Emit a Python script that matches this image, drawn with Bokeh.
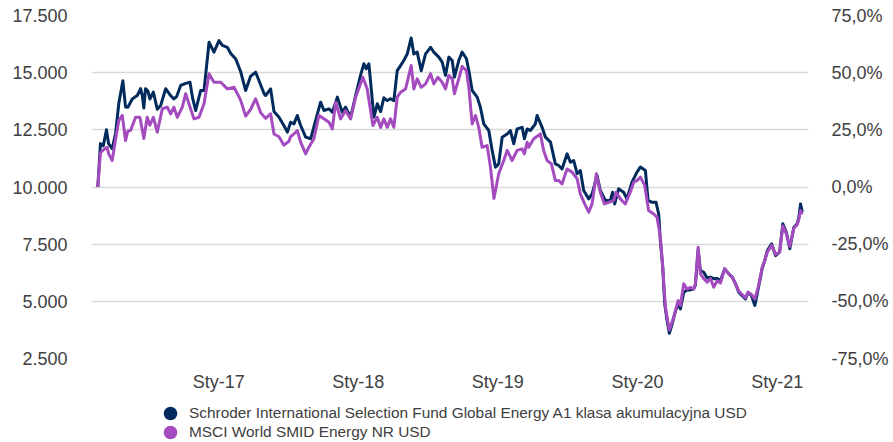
import math
from datetime import datetime, timedelta
from bokeh.plotting import figure
from bokeh.layouts import column
from bokeh.models import (ColumnDataSource, Range1d, LinearAxis, FixedTicker,
                          Legend, LegendItem)
from bokeh.embed import file_html
from bokeh.resources import INLINE

# ---------------- data (time as decimal year, value of 10 000 invested) -------------
fund_t = [2016.136, 2016.155, 2016.175, 2016.198, 2016.213, 2016.239, 2016.263, 2016.286,
          2016.315, 2016.334, 2016.351, 2016.382, 2016.418, 2016.442, 2016.454, 2016.465,
          2016.477, 2016.494, 2016.508, 2016.533, 2016.561, 2016.585, 2016.621, 2016.656,
          2016.680, 2016.699, 2016.728, 2016.764, 2016.795, 2016.812, 2016.835, 2016.871,
          2016.895, 2016.931, 2016.966, 2017.002, 2017.026, 2017.062, 2017.086, 2017.122,
          2017.157, 2017.193, 2017.229, 2017.265, 2017.288, 2017.324, 2017.336, 2017.372,
          2017.396, 2017.432, 2017.467, 2017.492, 2017.515, 2017.539, 2017.563, 2017.587,
          2017.623, 2017.659, 2017.694, 2017.730, 2017.754, 2017.790, 2017.814, 2017.850,
          2017.885, 2017.909, 2017.945, 2017.981, 2018.016, 2018.040, 2018.057, 2018.076,
          2018.112, 2018.136, 2018.160, 2018.183, 2018.208, 2018.231, 2018.255, 2018.279,
          2018.303, 2018.326, 2018.351, 2018.379, 2018.398, 2018.422, 2018.451, 2018.482,
          2018.518, 2018.541, 2018.577, 2018.601, 2018.625, 2018.649, 2018.673, 2018.689,
          2018.720, 2018.744, 2018.775, 2018.792, 2018.816, 2018.852, 2018.875, 2018.899,
          2018.935, 2018.959, 2018.983, 2019.006, 2019.031, 2019.067, 2019.090, 2019.114,
          2019.138, 2019.174, 2019.190, 2019.210, 2019.233, 2019.269, 2019.281, 2019.317,
          2019.341, 2019.377, 2019.412, 2019.436, 2019.460, 2019.496, 2019.520, 2019.543,
          2019.568, 2019.591, 2019.615, 2019.651, 2019.675, 2019.711, 2019.734, 2019.770,
          2019.806, 2019.822, 2019.837, 2019.865, 2019.901, 2019.925, 2019.961, 2019.997,
          2020.021, 2020.057, 2020.076, 2020.105, 2020.133, 2020.152, 2020.164, 2020.181,
          2020.195, 2020.212, 2020.228, 2020.248, 2020.271, 2020.291, 2020.307, 2020.331,
          2020.355, 2020.379, 2020.402, 2020.414, 2020.434, 2020.450, 2020.474, 2020.498,
          2020.522, 2020.545, 2020.570, 2020.593, 2020.624, 2020.653, 2020.677, 2020.701,
          2020.724, 2020.748, 2020.772, 2020.791, 2020.815, 2020.839, 2020.863, 2020.892,
          2020.910, 2020.928, 2020.959, 2020.987, 2021.016, 2021.039, 2021.064, 2021.089,
          2021.118, 2021.142, 2021.154, 2021.166, 2021.178]
fund_v = [10000, 11900, 11800, 12500, 11900, 11680, 12340, 13650,
          14650, 13500, 13490, 13850, 14000, 14300, 14000, 13450,
          14300, 14200, 13850, 14150, 13400, 13560, 14300, 14000,
          13850, 13950, 14440, 14530, 14580, 13930, 13345, 14220,
          14220, 16330, 15900, 16400, 16190, 16110, 15840, 15600,
          15050, 14220, 14850, 15020, 14660, 14100, 14000, 14290,
          13300, 13050, 12690, 12400, 12830, 12760, 13130, 12690,
          12180, 12110, 12900, 13710, 13345, 13420, 13270, 13930,
          13270, 13490, 13050, 14000, 14880, 15390, 15170, 15390,
          13050, 13640, 13300, 13900, 13780, 13860, 13780, 15090,
          15310, 15530, 15820, 16520, 15820, 15900, 15090, 15820,
          16110, 15900, 15680, 15460, 14880, 15680, 15530, 14800,
          15530, 15900, 15610, 15090, 14220, 13930, 13490, 12760,
          12470, 11600, 10870, 11010, 12180, 12320, 12470, 11890,
          12540, 12610, 12110, 12540, 12470, 12760, 13130, 12610,
          12180, 11960, 11010, 10940, 10790, 11450, 11080, 11160,
          10580, 10720, 9850, 9480, 9700, 10500, 9850, 9410,
          9410, 9770, 9260, 9920, 9770, 9480, 10210, 10650,
          10870, 10720, 9410, 9330, 9330, 8820, 7630, 6490,
          4890, 4160, 3600, 4010, 4550, 4900, 4670, 5400,
          5500, 5500, 5550, 5700, 7250, 6350, 6270, 6020,
          6060, 5990, 6000, 5900, 6420, 6200, 6060, 5770,
          5400, 5250, 5100, 5400, 5250, 4820, 5550, 6450,
          6780, 7220, 7510, 7000, 7150, 8390, 8020, 7300,
          8240, 8390, 8680, 9260, 8900]

bench_t = [2016.136, 2016.155, 2016.175, 2016.203, 2016.213, 2016.239, 2016.263, 2016.286,
           2016.311, 2016.334, 2016.351, 2016.370, 2016.406, 2016.437, 2016.465, 2016.489,
           2016.508, 2016.533, 2016.561, 2016.597, 2016.633, 2016.656, 2016.680, 2016.704,
           2016.740, 2016.764, 2016.787, 2016.823, 2016.859, 2016.895, 2016.931, 2016.966,
           2017.014, 2017.062, 2017.110, 2017.157, 2017.193, 2017.229, 2017.265, 2017.301,
           2017.336, 2017.372, 2017.396, 2017.432, 2017.467, 2017.503, 2017.515, 2017.539,
           2017.563, 2017.587, 2017.623, 2017.646, 2017.682, 2017.718, 2017.754, 2017.790,
           2017.814, 2017.838, 2017.873, 2017.909, 2017.945, 2017.981, 2018.033, 2018.064,
           2018.105, 2018.136, 2018.160, 2018.183, 2018.208, 2018.231, 2018.255, 2018.279,
           2018.303, 2018.339, 2018.379, 2018.398, 2018.422, 2018.451, 2018.482, 2018.518,
           2018.541, 2018.570, 2018.601, 2018.625, 2018.649, 2018.673, 2018.689, 2018.720,
           2018.744, 2018.775, 2018.792, 2018.816, 2018.840, 2018.863, 2018.887, 2018.923,
           2018.947, 2018.972, 2019.006, 2019.042, 2019.067, 2019.102, 2019.138, 2019.174,
           2019.190, 2019.210, 2019.221, 2019.257, 2019.305, 2019.328, 2019.353, 2019.384,
           2019.412, 2019.436, 2019.460, 2019.496, 2019.532, 2019.568, 2019.591, 2019.622,
           2019.651, 2019.675, 2019.706, 2019.734, 2019.763, 2019.794, 2019.830, 2019.847,
           2019.878, 2019.913, 2019.949, 2019.973, 2019.997, 2020.021, 2020.052, 2020.080,
           2020.116, 2020.140, 2020.164, 2020.181, 2020.200, 2020.228, 2020.259, 2020.291,
           2020.307, 2020.331, 2020.355, 2020.379, 2020.402, 2020.414, 2020.434, 2020.450,
           2020.474, 2020.498, 2020.522, 2020.545, 2020.570, 2020.593, 2020.624, 2020.653,
           2020.677, 2020.701, 2020.724, 2020.748, 2020.772, 2020.791, 2020.815, 2020.839,
           2020.863, 2020.892, 2020.910, 2020.928, 2020.959, 2020.987, 2021.016, 2021.039,
           2021.064, 2021.089, 2021.118, 2021.142, 2021.154, 2021.166, 2021.178]
bench_v = [10000, 11500, 11620, 11740, 11460, 11160, 12100, 12900,
           13130, 12030, 12450, 12470, 13050, 13050, 12120, 13050,
           12700, 13050, 12400, 13420, 13490, 13200, 13490, 13050,
           13490, 14080, 13640, 12980, 13050, 13640, 14950, 14580,
           14580, 14290, 14360, 13800, 13100, 13400, 13860, 13250,
           13000, 13200, 12320, 12200, 11830, 12000, 12200, 12320,
           12470, 11960, 11450, 11740, 12110, 13130, 12980, 12830,
           12540, 13710, 12980, 13345, 12980, 13930, 14800, 14290,
           12690, 13050, 12600, 12980, 12610, 12980, 12610, 13930,
           14140, 14290, 15310, 14290, 14730, 14360, 14510, 14950,
           14510, 14800, 14580, 14290, 14880, 14730, 14080, 14730,
           15270, 15090, 14360, 12760, 13130, 12610, 11740, 11810,
           10870, 9500, 10580, 11160, 11600, 11160, 11600, 11670,
           11450, 11960, 11740, 12110, 12320, 11600, 11160, 11010,
           10280, 10280, 10140, 10790, 10650, 10360, 9700, 9260,
           8900, 9260, 10580, 9770, 9260, 9330, 9410, 9770,
           9480, 9260, 9770, 10210, 10280, 10430, 10070, 8970,
           8820, 8680, 7800, 6490, 4740, 3750, 4310, 5030,
           4820, 5770, 5540, 5610, 5540, 5770, 7360, 6200,
           5990, 5840, 6000, 5620, 5900, 5800, 6420, 6200,
           6060, 5770, 5450, 5300, 5150, 5400, 5300, 5100,
           5620, 6500, 6800, 7150, 7450, 7050, 7150, 8300,
           7950, 7400, 8200, 8350, 8600, 8970, 8800]

series_names = ["Schroder International Selection Fund Global Energy A1 klasa akumulacyjna USD",
                "MSCI World SMID Energy NR USD"]
series_colors = ["#002b5c", "#a34bbf"]

x_tick_years = [2017, 2018, 2019, 2020, 2021]
x_tick_labels = ["Sty-17", "Sty-18", "Sty-19", "Sty-20", "Sty-21"]
y_ticks = [2500, 5000, 7500, 10000, 12500, 15000, 17500]
y_tick_labels = ["2.500", "5.000", "7.500", "10.000", "12.500", "15.000", "17.500"]
pct_ticks = [-75, -50, -25, 0, 25, 50, 75]
pct_tick_labels = ["-75,0%", "-50,0%", "-25,0%", "0,0%", "25,0%", "50,0%", "75,0%"]

# ---------------- helpers ----------------
EPOCH = datetime(1970, 1, 1)


def to_dt(t):
    y = int(math.floor(t))
    start = datetime(y, 1, 1)
    length = (datetime(y + 1, 1, 1) - start).total_seconds()
    return start + timedelta(seconds=(t - y) * length)


def ms(d):
    return int((d - EPOCH).total_seconds() * 1000)


fund_src = ColumnDataSource(dict(x=[to_dt(t) for t in fund_t], y=fund_v))
bench_src = ColumnDataSource(dict(x=[to_dt(t) for t in bench_t], y=bench_v))

FONT = "Liberation Sans"
TXT = "#404040"
W = 893
H_MAIN = 396
H_LEG = 46
BL, BR = 91, 85

p = figure(width=W, height=H_MAIN, x_axis_type="datetime",
           x_range=Range1d(ms(to_dt(2016.091)), ms(to_dt(2021.223))),
           y_range=Range1d(2500, 17500),
           output_backend="svg", toolbar_location=None,
           min_border_left=BL, min_border_right=BR, min_border_top=15, min_border_bottom=38)
p.extra_y_ranges = {"pct": Range1d(-75, 75)}
p.outline_line_color = None
p.background_fill_color = "white"

p.line("x", "y", source=fund_src, line_color=series_colors[0], line_width=3, line_join="round")
p.line("x", "y", source=bench_src, line_color=series_colors[1], line_width=3, line_join="round")

# axes
x_ticks_ms = [ms(datetime(y, 1, 1)) for y in x_tick_years]
xa = p.xaxis[0]
xa.ticker = FixedTicker(ticks=x_ticks_ms)
xa.major_label_overrides = {t: l for t, l in zip(x_ticks_ms, x_tick_labels)}
xa.major_label_standoff = 13

ya = p.yaxis[0]
ya.ticker = FixedTicker(ticks=y_ticks)
ya.major_label_overrides = {t: l for t, l in zip(y_ticks, y_tick_labels)}
ya.major_label_standoff = 24

ra = LinearAxis(y_range_name="pct", ticker=FixedTicker(ticks=pct_ticks),
                major_label_overrides={t: l for t, l in zip(pct_ticks, pct_tick_labels)})
ra.major_label_standoff = 23
p.add_layout(ra, "right")

for ax in (xa, ya, ra):
    ax.axis_line_color = None
    ax.major_tick_line_color = None
    ax.minor_tick_line_color = None
    ax.major_tick_out = 0
    ax.major_tick_in = 0
    ax.major_label_text_font = FONT
    ax.major_label_text_font_size = "18px"
    ax.major_label_text_color = TXT

p.xgrid.visible = False
p.ygrid.ticker = FixedTicker(ticks=y_ticks)
p.ygrid.grid_line_color = "#d9d9d9"
p.ygrid.grid_line_width = 1.6

# ---------------- legend strip (separate small figure, frame aligned with main) ----------
lf = figure(width=W, height=H_LEG, x_range=Range1d(0, 1), y_range=Range1d(0, 1),
            output_backend="svg", toolbar_location=None,
            x_axis_location=None, y_axis_location=None,
            min_border_left=BL, min_border_right=BR, min_border_top=0, min_border_bottom=0)
lf.outline_line_color = None
lf.grid.visible = False
# legend keys are round dots; their own data point lies off-range (not drawn)
dummy = ColumnDataSource(dict(x=[0], y=[5]))
row_offsets = [12, -7]  # one single-entry legend per row, stacked 19 px apart
for name, color, vy in zip(series_names, series_colors, row_offsets):
    r = lf.scatter("x", "y", source=dummy, marker="circle", size=14,
                   fill_color=color, line_color=None)
    lg = Legend(items=[LegendItem(label=name, renderers=[r])],
                location=(153 - BL, vy), orientation="vertical",
                glyph_width=34, glyph_height=34, label_height=17, spacing=0,
                padding=0, margin=0, label_standoff=2,
                label_text_font=FONT, label_text_font_size="15.4px", label_text_color=TXT,
                border_line_color=None, background_fill_alpha=0)
    lf.add_layout(lg, "center")

layout = column(p, lf, spacing=0)
open("out.html", "w").write(file_html(layout, INLINE))
